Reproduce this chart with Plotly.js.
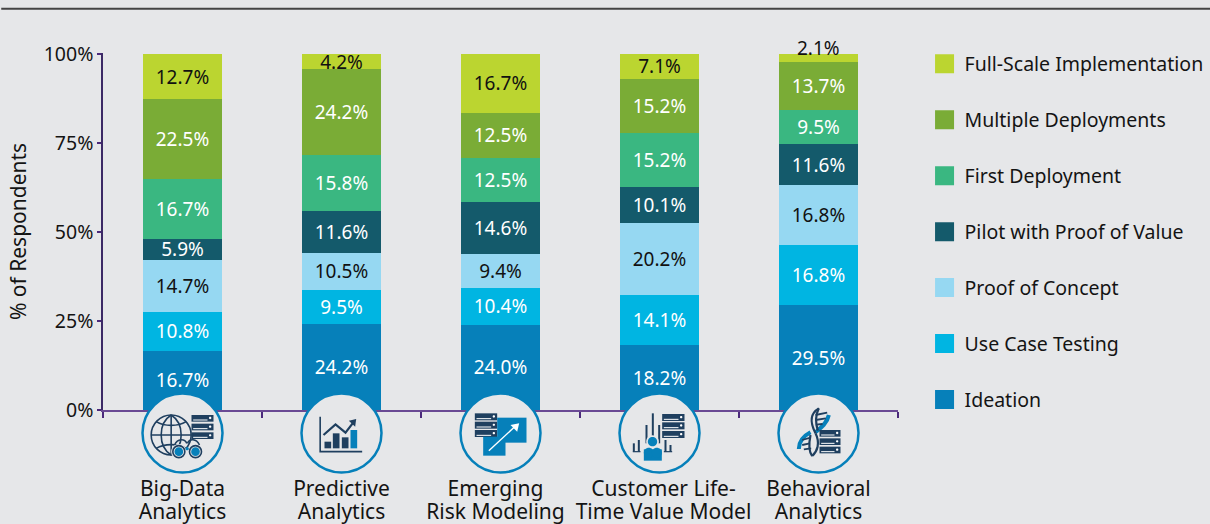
<!DOCTYPE html>
<html>
<head>
<meta charset="utf-8">
<script src="https://cdn.plot.ly/plotly-3.0.1.min.js"></script>
<style>html,body{margin:0;padding:0;background:#e6e7e9}</style>
</head>
<body>
<div id="chart" style="width:1210px;height:524px"></div>
<script>
const categories = ['Big-Data<br>Analytics','Predictive<br>Analytics','Emerging<br>Risk Modeling','Customer Life-<br>Time Value Model','Behavioral<br>Analytics'];
const ideation   = [16.7,24.2,24.0,18.2,29.5];
const useCase    = [10.8, 9.5,10.4,14.1,16.8];
const proofConc  = [14.7,10.5, 9.4,20.2,16.8];
const pilot      = [ 5.9,11.6,14.6,10.1,11.6];
const firstDep   = [16.7,15.8,12.5,15.2, 9.5];
const multiDep   = [22.5,24.2,12.5,15.2,13.7];
const fullScale  = [12.7, 4.2,16.7, 7.1, 2.1];
const seriesNames = ['Ideation','Use Case Testing','Proof of Concept','Pilot with Proof of Value','First Deployment','Multiple Deployments','Full-Scale Implementation'];
const seriesValues = [ideation,useCase,proofConc,pilot,firstDep,multiDep,fullScale];
const seriesColors = ['#0680ba','#00b5e2','#96d8f2','#145a6b','#3ab781','#7aac36','#bbd530'];
const labelColors  = ['#ffffff','#ffffff','#111111','#ffffff','#ffffff','#ffffff','#111111'];
const yTicks = [0,25,50,75,100];
const tickNudge = [0,0,-5,4,0];
const FONT = '"Noto Sans", sans-serif';
const INK = '#141414';
const SMALL = 3;

const traces = seriesNames.map((name,i)=>({
  type:'bar', name, x:categories, y:seriesValues[i],
  legendgroup:name, legendrank:100-i,
  marker:{color:seriesColors[i],line:{width:0}},
  text:seriesValues[i].map(v=>v<SMALL?'':v.toFixed(1)+'%'),
  textposition:'inside',
  insidetextanchor:'middle',
  textangle:0,
  constraintext:'none',
  cliponaxis:false,
  textfont:{family:FONT,size:19,color:labelColors[i]},
  hoverinfo:'skip'
}));
const annotations = categories.map((c,k)=>fullScale[k]<SMALL?{
  x:c,y:100,xref:'x',yref:'y',text:fullScale[k].toFixed(1)+'%',showarrow:false,yanchor:'bottom',yshift:-9,
  font:{family:FONT,size:19,color:'#111111'}}:null).filter(Boolean);

/* icon drawing: local coordinates are 3x pixels relative to each badge centre */
const CY = 129, DROP = 23;
function pt(x,y,c){return ((x-c)/3).toFixed(2)+','+(-(DROP+(y-CY)/3)).toFixed(2);}
function rect(c,x0,y0,x1,y1){return 'M'+pt(x0,y0,c)+'L'+pt(x1,y0,c)+'L'+pt(x1,y1,c)+'L'+pt(x0,y1,c)+'Z';}
function circ(c,x,y,r){const k=r*0.5523;
 return 'M'+pt(x-r,y,c)+'C'+pt(x-r,y-k,c)+' '+pt(x-k,y-r,c)+' '+pt(x,y-r,c)+'C'+pt(x+k,y-r,c)+' '+pt(x+r,y-k,c)+' '+pt(x+r,y,c)+'C'+pt(x+r,y+k,c)+' '+pt(x+k,y+r,c)+' '+pt(x,y+r,c)+'C'+pt(x-k,y+r,c)+' '+pt(x-r,y+k,c)+' '+pt(x-r,y,c)+'Z';}
function poly(c,pts,close){return 'M'+pts.map(p=>pt(p[0],p[1],c)).join('L')+(close?'Z':'');}
function curve(c,a,b,d,e){return 'M'+pt(a[0],a[1],c)+'C'+pt(b[0],b[1],c)+' '+pt(d[0],d[1],c)+' '+pt(e[0],e[1],c);}
const NAVY='#1f3f5f', BLUE='#0680ba', BG='#e6e7e9';
const shapes=[{type:'line',xref:'paper',yref:'paper',x0:-0.128,x1:1.4,y0:1.1236,y1:1.1236,line:{color:'#444444',width:2}}];
const slot=i=>(i+0.5)/categories.length;
function add(idx,path,o){shapes.push(Object.assign({type:'path',xref:'paper',yref:'paper',xsizemode:'pixel',ysizemode:'pixel',xanchor:slot(idx),yanchor:0,path,layer:'above',line:{width:0},fillcolor:'rgba(0,0,0,0)'},o));}
function fill(idx,path,color){add(idx,path,{fillcolor:color,line:{width:0}});}
function stroke(idx,path,color,w){add(idx,path,{line:{color,width:w}});}
function servers(idx,c,x0,x1,ys,h){
  ys.forEach(y=>{
    fill(idx,rect(c,x0,y,x1,y+h),NAVY);
    stroke(idx,poly(c,[[x0+5,y+h-5],[x1-18,y+h-5]]),'#ffffff',1);
    fill(idx,circ(c,x1-10,y+h/2-1,3.5),'#ffffff');
  });
}
const centres=[249,726,300,777,354];
centres.forEach((c,i)=>{
  shapes.push({type:'circle',xref:'paper',yref:'paper',xsizemode:'pixel',ysizemode:'pixel',xanchor:slot(i),yanchor:0,
    x0:-40,x1:40,y0:-DROP-39.5,y1:-DROP+39.5,layer:'above',fillcolor:BG,line:{color:BLUE,width:2.5}});
});
/* Big-Data */
(function(){const c=249,i=0;
  stroke(i,circ(c,215,135,60),NAVY,1.6);
  stroke(i,curve(c,[215,75],[175,100],[175,170],[215,195]),NAVY,1.6);
  stroke(i,curve(c,[215,75],[255,100],[255,170],[215,195]),NAVY,1.6);
  stroke(i,poly(c,[[215,75],[215,195]]),NAVY,1.6);
  stroke(i,poly(c,[[155,135],[275,135]]),NAVY,1.6);
  stroke(i,curve(c,[170,95],[195,110],[235,110],[260,95]),NAVY,1.6);
  stroke(i,curve(c,[170,175],[195,160],[235,160],[260,175]),NAVY,1.6);
  servers(i,c,276,342,[75,101,127],20);
  fill(i,circ(c,238,185,23),BG); fill(i,circ(c,288,185,23),BG);
  stroke(i,circ(c,238,185,18),NAVY,1.6); stroke(i,circ(c,288,185,18),NAVY,1.6);
  fill(i,circ(c,238,185,13),BLUE); fill(i,circ(c,288,185,13),BLUE); fill(i,circ(c,263,176,5),BLUE);
  stroke(i,curve(c,[225,165],[235,145],[255,145],[262,160]),NAVY,1.6);
  stroke(i,curve(c,[264,160],[270,145],[290,145],[300,165]),NAVY,1.6);
})();
/* Predictive */
(function(){const c=726,i=1;
  stroke(i,poly(c,[[662,80],[662,185],[788,185]]),NAVY,1.6);
  fill(i,rect(c,675,155,695,175),NAVY);
  fill(i,rect(c,700,130,720,175),NAVY);
  fill(i,rect(c,727,142,747,175),NAVY);
  fill(i,rect(c,753,120,773,175),BLUE);
  stroke(i,poly(c,[[672,135],[708,103],[738,128],[764,94]]),NAVY,2.2);
  fill(i,poly(c,[[748,92],[770,87],[767,110]],true),NAVY);
})();
/* Emerging */
(function(){const c=300,i=2;
  servers(i,c,223,290,[70,95,120],21);
  fill(i,rect(c,290,83,378,158),BLUE);
  fill(i,rect(c,248,140,315,197),BLUE);
  stroke(i,poly(c,[[265,182],[345,108]]),'#ffffff',1.4);
  fill(i,poly(c,[[330,105],[356,100],[350,125]],true),'#ffffff');
})();
/* Customer */
(function(){const c=777,i=3;
  servers(i,c,785,852,[72,97,123],21);
  [[738,105,160],[757,70,140],[776,105,160],[700,160,185],[715,150,185],[795,150,185],[810,165,185]].forEach(b=>{
    fill(i,rect(c,b[0]-3,b[1],b[0]+3,b[2]),NAVY);
  });
  stroke(i,poly(c,[[697,185],[720,185]]),NAVY,1.2);
  stroke(i,poly(c,[[790,185],[815,185]]),NAVY,1.2);
  fill(i,circ(c,756,155,19),BG);
  fill(i,circ(c,756,155,14),BLUE);
  fill(i,rect(c,730,178,784,212),BLUE);
  fill(i,circ(c,745,188,15),BLUE); fill(i,circ(c,769,188,15),BLUE);
})();
/* Behavioral */
(function(){const c=354,i=4;
  stroke(i,curve(c,[385,75],[380,100],[360,115],[345,127]),BLUE,4);
  stroke(i,curve(c,[330,127],[305,140],[295,160],[295,177]),BLUE,4);
  stroke(i,curve(c,[355,55],[320,75],[335,110],[345,130]),NAVY,2.2);
  stroke(i,curve(c,[345,130],[360,160],[350,185],[335,198]),NAVY,2.2);
  stroke(i,curve(c,[355,55],[345,75],[345,100],[352,122]),NAVY,2.2);
  stroke(i,curve(c,[330,135],[325,160],[325,185],[335,198]),NAVY,2.2);
  [[345,75,380,68],[345,90,376,85],[347,104,366,102],[305,150,330,143],[305,165,328,160],[310,178,332,175]].forEach(r=>{
    stroke(i,poly(c,[[r[0],r[1]],[r[2],r[3]]]),NAVY,1.8);
  });
  servers(i,c,357,420,[120,145,170],20);
})();

const layout={
  width:1210,height:524,autosize:false,
  paper_bgcolor:BG,plot_bgcolor:BG,
  margin:{l:103,r:312,t:53,b:113.5,pad:0,autoexpand:false},
  barmode:'stack',bargap:0.5,
  font:{family:FONT,color:INK},
  showlegend:true,
  legend:{x:1.0334,y:1.0235,xanchor:'left',yanchor:'top',traceorder:'grouped',tracegroupgap:27.6,maxheight:480,
    itemclick:false,itemdoubleclick:false,font:{family:FONT,size:19.5,color:INK},bgcolor:'rgba(0,0,0,0)'},
  xaxis:{type:'category',tickson:'boundaries',ticks:'outside',ticklen:6,tickwidth:1.5,tickcolor:'#4b2a7b',
    showline:true,linecolor:'#6a4a94',linewidth:2,showgrid:false,zeroline:false,
    ticklabelstandoff:59,tickfont:{family:FONT,size:21,color:INK},tickangle:0},
  yaxis:{range:[0,100.3],tickvals:yTicks,ticktext:yTicks.map(v=>v+'%'),ticks:'outside',ticklen:4,tickwidth:1.5,tickcolor:'#4b2a7b',
    showline:true,linecolor:'#3c2a66',linewidth:1.5,showgrid:false,zeroline:false,
    tickfont:{family:FONT,size:19.5,color:INK},
    title:{text:'% of Respondents',standoff:15,font:{family:FONT,size:21,color:INK}}},
  annotations,
  shapes
};
Plotly.newPlot('chart',traces,layout,{displayModeBar:false}).then(()=>{
  document.querySelectorAll('#chart .legend .legendpoints path').forEach(p=>{
    p.setAttribute('d','M9.5,9.5H-9.5V-9.5H9.5Z');
  });
  document.querySelectorAll('#chart g.xtick').forEach((g,k)=>{
    g.querySelectorAll('tspan.line').forEach(t=>{
      if(parseFloat(t.getAttribute('dy'))>0) t.setAttribute('dy','23px');
    });
    if(tickNudge[k]) g.setAttribute('transform','translate('+tickNudge[k]+',0)');
  });
  const yt=document.querySelector('#chart .g-ytitle');
  if(yt) yt.setAttribute('transform','translate(4,0)');
});
</script>
</body>
</html>
